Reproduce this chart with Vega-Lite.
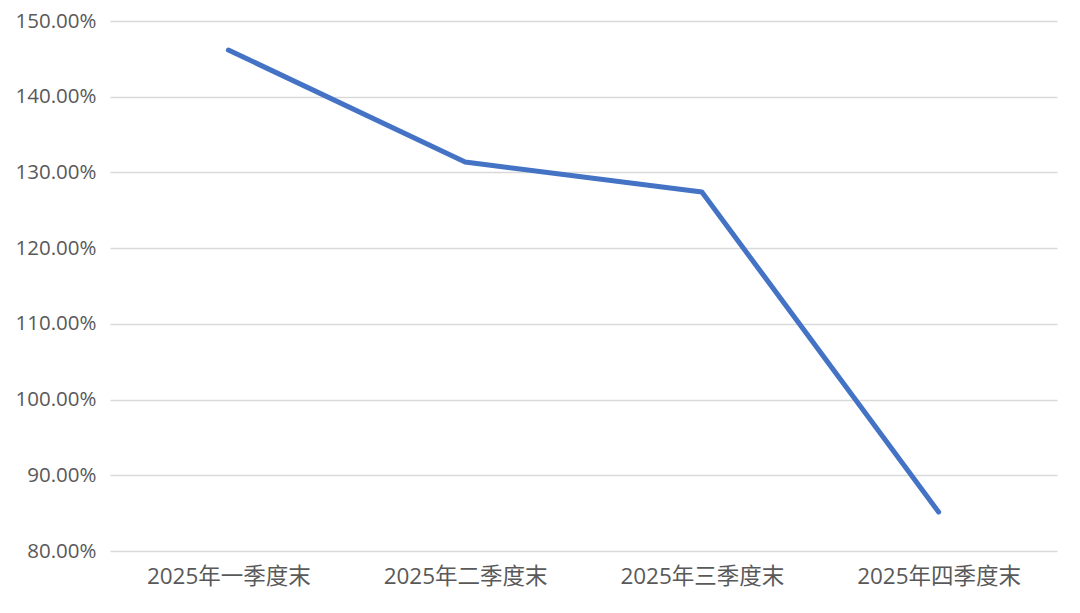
{
  "$schema": "https://vega.github.io/schema/vega-lite/v6.json",
  "width": 947,
  "height": 530,
  "autosize": {"type": "none"},
  "padding": {"left": 110, "top": 21, "right": 23, "bottom": 62},
  "background": "white",
  "config": {"view": {"stroke": null}, "font": "Open Sans, Noto Sans CJK SC"},
  "data": {"values": [
    {"q": "2025年一季度末", "v": 1.4617},
    {"q": "2025年二季度末", "v": 1.3137},
    {"q": "2025年三季度末", "v": 1.2741},
    {"q": "2025年四季度末", "v": 0.8514}
  ]},
  "mark": {"type": "line", "color": "#4472C4", "strokeWidth": 5, "strokeCap": "round", "strokeJoin": "round"},
  "encoding": {
    "x": {"field": "q", "type": "ordinal", "sort": null, "title": null,
      "scale": {"paddingInner": 0, "paddingOuter": 0},
      "axis": {"labelAngle": 0, "labelFont": "Open Sans, Noto Sans CJK SC", "labelFontSize": 22.5, "labelColor": "#595959", "domain": false, "ticks": false, "labelPadding": 14, "grid": false}},
    "y": {"field": "v", "type": "quantitative", "title": null,
      "scale": {"domain": [0.8, 1.5], "nice": false, "zero": false},
      "axis": {"format": ".2%", "values": [0.8, 0.9, 1.0, 1.1, 1.2, 1.3, 1.4, 1.5], "labelFont": "Open Sans", "labelFontSize": 20.5, "labelColor": "#595959", "domain": false, "ticks": false, "labelPadding": 14, "gridColor": "#D9D9D9", "gridWidth": 1.3}}
  }
}
